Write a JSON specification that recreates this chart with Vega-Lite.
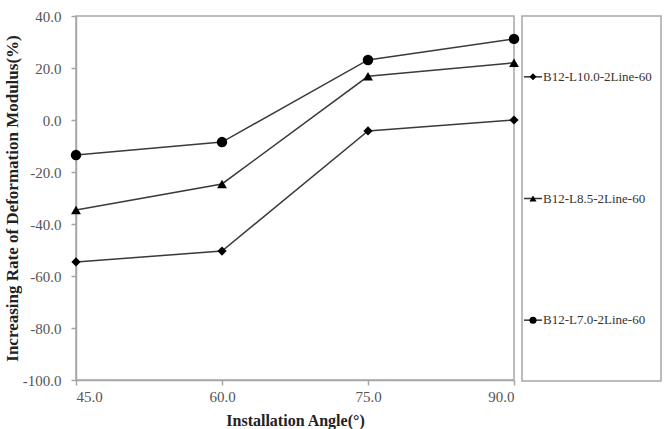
{
  "$schema": "https://vega.github.io/schema/vega-lite/v6.json",
  "padding": {"left": 2, "top": 8, "right": 6, "bottom": 0},
  "background": "white",
  "bounds": "flush",
  "data": {"values": [
    {"series": "B12-L10.0-2Line-60", "angle": 45, "rate": -54.6},
    {"series": "B12-L10.0-2Line-60", "angle": 60, "rate": -50.4},
    {"series": "B12-L10.0-2Line-60", "angle": 75, "rate": -4.2},
    {"series": "B12-L10.0-2Line-60", "angle": 90, "rate": 0.0},
    {"series": "B12-L8.5-2Line-60", "angle": 45, "rate": -34.6},
    {"series": "B12-L8.5-2Line-60", "angle": 60, "rate": -24.6},
    {"series": "B12-L8.5-2Line-60", "angle": 75, "rate": 16.8},
    {"series": "B12-L8.5-2Line-60", "angle": 90, "rate": 22.0},
    {"series": "B12-L7.0-2Line-60", "angle": 45, "rate": -13.5},
    {"series": "B12-L7.0-2Line-60", "angle": 60, "rate": -8.5},
    {"series": "B12-L7.0-2Line-60", "angle": 75, "rate": 23.1},
    {"series": "B12-L7.0-2Line-60", "angle": 90, "rate": 31.2}
  ]},
  "config": {
    "view": {"stroke": "#a6a6a6", "strokeWidth": 1.5},
    "font": "Liberation Serif",
    "axis": {
      "domainColor": "#a6a6a6", "domainWidth": 1.5, "tickColor": "#a6a6a6", "tickWidth": 1.5, "tickSize": 5,
      "labelFont": "Liberation Serif", "labelFontSize": 15, "labelColor": "#555",
      "titleFont": "Liberation Serif", "titleFontWeight": "bold", "titleColor": "#222",
      "grid": false
    }
  },
  "hconcat": [
    {
      "width": 438,
      "height": 364,
      "layer": [
        {
          "mark": {"type": "line", "color": "#3a3a3a", "strokeWidth": 1.5},
          "encoding": {
            "x": {"field": "angle", "type": "quantitative", "scale": {"domain": [45, 90], "nice": false, "zero": false},
              "axis": {"values": [45, 60, 75, 90], "format": ".1f", "title": "Installation Angle(°)", "titleFontSize": 16, "labelPadding": 4, "titlePadding": 8}},
            "y": {"field": "rate", "type": "quantitative", "scale": {"domain": [-100, 40], "nice": false},
              "axis": {"values": [-100, -80, -60, -40, -20, 0, 20, 40], "format": ".1f", "labelExpr": "replace(datum.label, '−', '-')", "title": "Increasing Rate of Deformation Modulus(%)", "titleFontSize": 17, "labelPadding": 10, "titlePadding": 1}},
            "detail": {"field": "series"}
          }
        },
        {
          "mark": {"type": "point", "filled": true, "color": "#000", "opacity": 1},
          "encoding": {
            "x": {"field": "angle", "type": "quantitative"},
            "y": {"field": "rate", "type": "quantitative"},
            "shape": {"field": "series", "type": "nominal", "scale": {"domain": ["B12-L10.0-2Line-60", "B12-L8.5-2Line-60", "B12-L7.0-2Line-60"], "range": ["diamond", "triangle-up", "circle"]}, "legend": null},
            "size": {"field": "series", "type": "nominal", "scale": {"domain": ["B12-L10.0-2Line-60", "B12-L8.5-2Line-60", "B12-L7.0-2Line-60"], "range": [85, 110, 100]}, "legend": null}
          }
        }
      ]
    },
    {
      "width": 139,
      "height": 365,
      "transform": [{"filter": "datum.angle == 90"}],
      "encoding": {
        "y": {"field": "series", "type": "nominal", "sort": ["B12-L10.0-2Line-60", "B12-L8.5-2Line-60", "B12-L7.0-2Line-60"], "scale": {"type": "point", "padding": 0.5}, "axis": null}
      },
      "layer": [
        {
          "mark": {"type": "rule", "color": "#333", "strokeWidth": 1.5},
          "encoding": {
            "x": {"datum": 2, "type": "quantitative", "scale": {"domain": [0, 139], "nice": false}, "axis": null},
            "x2": {"datum": 20}
          }
        },
        {
          "mark": {"type": "point", "filled": true, "color": "#000", "opacity": 1},
          "encoding": {
            "x": {"datum": 11, "type": "quantitative"},
            "shape": {"field": "series", "type": "nominal", "scale": {"domain": ["B12-L10.0-2Line-60", "B12-L8.5-2Line-60", "B12-L7.0-2Line-60"], "range": ["diamond", "triangle-up", "circle"]}, "legend": null},
            "size": {"value": 50}
          }
        },
        {
          "mark": {"type": "text", "align": "left", "baseline": "middle", "font": "Liberation Serif", "fontSize": 13, "color": "#333"},
          "encoding": {
            "x": {"datum": 21, "type": "quantitative"},
            "text": {"field": "series"}
          }
        }
      ]
    }
  ],
  "spacing": 8
}
